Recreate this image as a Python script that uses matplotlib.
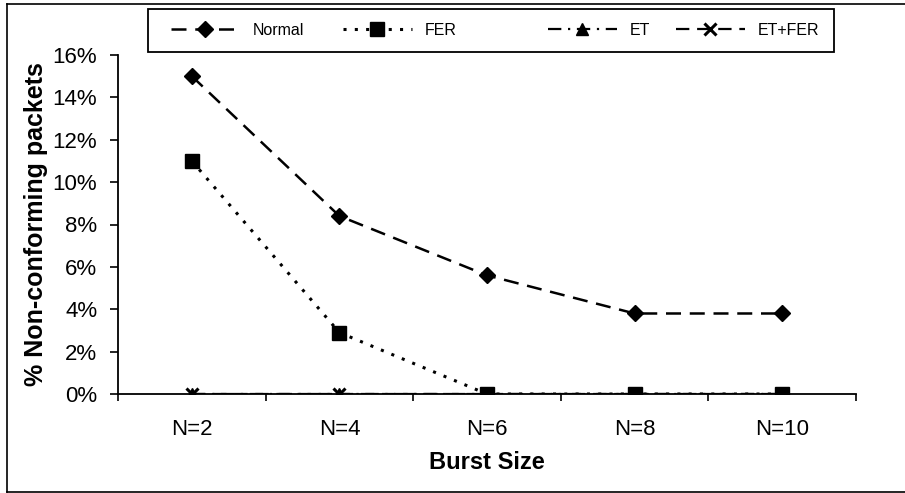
import matplotlib.pyplot as plt
from matplotlib.lines import Line2D
from matplotlib.patches import Rectangle
from matplotlib.ticker import FixedLocator

plt.rcParams['font.family'] = ['Liberation Sans', 'DejaVu Sans']

# burst sizes and % of non-conforming packets per scheme
bursts = ['N=2', 'N=4', 'N=6', 'N=8', 'N=10']
normal = [15.0, 8.4, 5.6, 3.8, 3.8]
fer = [11.0, 2.9, 0.0, 0.0, 0.0]
et = [0.0, 0.0, 0.0, 0.0, 0.0]
et_fer = [0.0, 0.0, 0.0, 0.0, 0.0]

W, H = 905, 493
fig = plt.figure(figsize=(W / 100, H / 100), dpi=100)
ax = fig.add_axes([118 / W, 1 - 394 / H, 738 / W, 339 / H])

x = list(range(len(bursts)))
ax.plot(x, normal, color='black', lw=1.8, ls=(0, (6, 3.5)), marker='D',
        ms=8.5, label='Normal', zorder=3)
ax.plot(x, et, color='black', lw=1.6, ls=(0, (6, 3, 1, 3)), marker='^',
        ms=9, label='ET', zorder=3)
ax.plot(x, et_fer, color='black', lw=1.6, ls=(0, (6, 3.5)), marker='x',
        ms=8, mew=2.2, label='ET+FER', zorder=3)
ax.plot(x, fer, color='black', lw=2.2, ls=(0, (1, 2.7)), marker='s',
        ms=10, label='FER', zorder=4)

ax.set_xlim(-0.5, len(bursts) - 0.5)
ax.set_ylim(0, 16)
ax.set_xticks(x)
ax.set_xticklabels(bursts, fontsize=16)
ax.xaxis.set_minor_locator(FixedLocator([i - 0.5 for i in range(len(bursts) + 1)]))
ax.tick_params(axis='x', which='major', length=0, pad=18)
ax.tick_params(axis='x', which='minor', length=5, width=1.2, direction='out')
ax.set_yticks(range(0, 17, 2))
ax.set_yticklabels([f'{v}%' for v in range(0, 17, 2)], fontsize=16)
ax.tick_params(axis='y', length=6, width=1.2, direction='out', pad=9)

for side in ['top', 'right']:
    ax.spines[side].set_visible(False)
ax.spines['left'].set_linewidth(1.3)
ax.spines['bottom'].set_linewidth(1.3)
ax.spines['bottom'].set_zorder(2)

ax.set_xlabel('Burst Size', fontsize=17, fontweight='bold', labelpad=8)
ax.set_ylabel('% Non-conforming packets', fontsize=18, fontweight='bold',
              labelpad=3)

# legend: boxed row at the top, one entry per slot
handles = {h.get_label(): h for h in ax.get_lines()}
order = ['Normal', 'FER', 'ET', 'ET+FER']
slots = [171, 343, 548, 676]
for name, left in zip(order, slots):
    fig.legend([handles[name]], [name], loc='center left',
               bbox_to_anchor=(left / W, 1 - 30.5 / H), frameon=False,
               fontsize=11.5, handlelength=4.3, handletextpad=0.8,
               borderpad=0, borderaxespad=0)
fig.patches.append(Rectangle((148 / W, 1 - 52 / H), 686 / W, 43 / H,
                             transform=fig.transFigure, fill=False,
                             edgecolor='black', lw=1.3))

# chart area border (left, top, bottom)
for xs, ys in [([7, 7], [4, 492]), ([7, W], [4, 4]), ([7, W], [492, 492])]:
    fig.add_artist(Line2D([v / W for v in xs], [1 - v / H for v in ys],
                          transform=fig.transFigure, color='black', lw=1.2))

fig.savefig('out.png', dpi=100)
